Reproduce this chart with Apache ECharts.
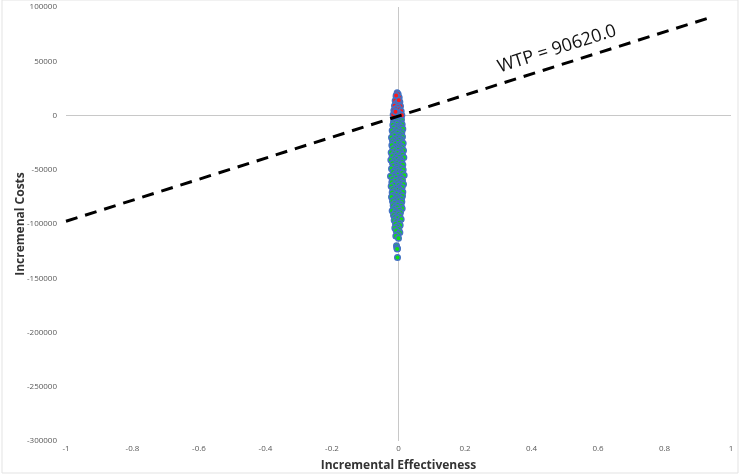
<!DOCTYPE html>
<html>
<head>
<meta charset="utf-8">
<title>Cost-effectiveness plane</title>
<script src="https://cdn.jsdelivr.net/npm/echarts@6/dist/echarts.min.js"></script>
<style>
  html, body { margin: 0; padding: 0; background: #fff; }
  #chart { width: 744px; height: 474px; }
</style>
</head>
<body>
<div id="chart"></div>
<script>
// simulations above zero (red fill)
const posEffect = [-0.004, -0.001, -0.007, 0.002, -0.003, -0.010, 0.004, -0.006, 0.000, -0.012,
  0.006, -0.002, -0.008, 0.003, -0.014, 0.008, -0.005, -0.001, -0.011, 0.005,
  -0.016, 0.010, -0.007, 0.001, -0.009]
const posCost = [21000, 19500, 17000, 16500, 15000, 13500, 12500, 11000, 10200, 9000,
  8500, 7500, 6200, 5600, 4500, 4000, 3000, 2200, 1500, 900,
  600, 300, 18500, 14000, 3500]

// simulations below zero (green fill)
const negEffect = [
  0.003, -0.009, 0.007, -0.004, -0.013, 0.001, 0.009, -0.007, -0.002, -0.015,
  0.005, -0.011, -0.003, 0.011, -0.017, 0.002, -0.008, 0.008, -0.014, -0.001,
  0.013, -0.006, -0.019, 0.004, -0.010, 0.010, -0.002, -0.016, 0.006, -0.009,
  -0.013, 0.001, 0.012, -0.021, -0.005, 0.007, -0.012, 0.003, -0.018, 0.010,
  -0.004, -0.015, 0.014, -0.009, 0.002, -0.020, 0.008, -0.006, 0.011, -0.012,
  0.004, -0.017, -0.001, 0.015, -0.011, 0.006, -0.022, -0.003, 0.009, -0.014,
  0.012, -0.007, -0.019, 0.001, 0.016, -0.010, -0.004, 0.007, -0.023, 0.003,
  -0.013, 0.010, -0.002, -0.018, 0.005, 0.013, -0.008, -0.015, 0.002, -0.005,
  0.008, -0.021, -0.006, 0.014, -0.011, 0.000, -0.016, 0.006, 0.011, -0.009,
  -0.003, 0.017, -0.013, -0.024, 0.004, -0.007, 0.009, -0.018, 0.001, 0.012,
  -0.010, 0.003, -0.020, 0.010, -0.005, 0.015, -0.014, 0.000, -0.022, 0.007,
  0.011, -0.008, 0.002, -0.017, -0.003, 0.008, -0.012, 0.013, -0.019, -0.001,
  -0.006, 0.006, -0.015, 0.012, -0.010, -0.021, 0.003, -0.004, 0.009, -0.013,
  0.001, -0.018, 0.010, -0.007, -0.012, 0.005, -0.002, -0.016, 0.008, -0.009,
  -0.004, 0.011, -0.014, 0.002, -0.019, -0.008, 0.006, -0.011, 0.000, -0.015,
  0.004, -0.010, -0.003, 0.008, -0.013, -0.006, 0.002, -0.009, 0.005, -0.004,
  -0.011, 0.001, -0.007, 0.004, -0.002, -0.008, 0.000, -0.006, -0.003, -0.005,
  -0.004, -0.003]
const negCost = [
  -300, -900, -1500, -2100, -2800, -3300, -4000, -4700, -5300, -5900,
  -6400, -6900, -7700, -8200, -8800, -9500, -10100, -10600, -11300, -11900,
  -12500, -13000, -13800, -14300, -14900, -15600, -16000, -16700, -17400, -17900,
  -18400, -19100, -19600, -20200, -20900, -21500, -22000, -22600, -23300, -23900,
  -24300, -25000, -25600, -26100, -26800, -27400, -28000, -28700, -29200, -29800,
  -30400, -30900, -31600, -32200, -32900, -33400, -34000, -34600, -35300, -35800,
  -36300, -37000, -37500, -38200, -38800, -39300, -40000, -40600, -41100, -41800,
  -42300, -42900, -43600, -44100, -44800, -45400, -45900, -46600, -47200, -47700,
  -48300, -49000, -49500, -50100, -50800, -51300, -52000, -52500, -53100, -53800,
  -54300, -55000, -55500, -56100, -56700, -57400, -57900, -58500, -59200, -59700,
  -60300, -60800, -61500, -62100, -62600, -63300, -63800, -64400, -65100, -65600,
  -66200, -66900, -67400, -68000, -68700, -69200, -69900, -70400, -71000, -71700,
  -72200, -72900, -73400, -74100, -74700, -75200, -75900, -76500, -77000, -77800,
  -78300, -79000, -79600, -80300, -80900, -81600, -82200, -82900, -83500, -84200,
  -84900, -85600, -86300, -87100, -87800, -88600, -89400, -90200, -91100, -92000,
  -92800, -93700, -94700, -95600, -96600, -97700, -98800, -99900, -101100, -102400,
  -103600, -104900, -106300, -107800, -109400, -111000, -113200, -120000, -122600, -121800,
  -123000, -130800]

// WTP threshold line end points
const wtpEffect = [-1, 0.94]
const wtpCost = [-97500, 90600]
const wtpLabel = 'WTP = 90620.0'

const chart = echarts.init(document.getElementById('chart'))

const zip = (xs, ys) => xs.map((x, i) => [x, ys[i]])

const option = {
  animation: false,
  textStyle: { fontFamily: 'Open Sans' },
  grid: { left: 66, right: 13, top: 7, bottom: 33, outerBoundsMode: 'none' },
  xAxis: {
    type: 'value',
    min: -1,
    max: 1,
    interval: 0.2,
    name: 'Incremental Effectiveness',
    nameLocation: 'middle',
    nameGap: 19,
    nameMoveOverlap: false,
    nameTextStyle: { color: '#333', fontSize: 12, fontWeight: 'bold' },
    axisLine: { show: false },
    axisTick: { show: false },
    splitLine: { show: false },
    axisLabel: { color: '#595959', fontSize: 8, margin: 4 }
  },
  yAxis: {
    type: 'value',
    min: -300000,
    max: 100000,
    interval: 50000,
    name: 'Incremenal Costs',
    nameLocation: 'middle',
    nameGap: 39,
    nameMoveOverlap: false,
    nameTextStyle: { color: '#333', fontSize: 12, fontWeight: 'bold' },
    axisLine: { show: false },
    axisTick: { show: false },
    splitLine: { show: false },
    axisLabel: { color: '#595959', fontSize: 8, margin: 9, formatter: v => String(v) }
  },
  series: [
    {
      type: 'scatter',
      symbolSize: 5.5,
      data: zip(negEffect, negCost),
      itemStyle: { color: '#11e011', borderColor: '#4472c4', borderWidth: 1.5, opacity: 1 },
      markLine: {
        silent: true,
        symbol: 'none',
        label: { show: false },
        lineStyle: { color: '#c8c8c8', type: 'solid', width: 1 },
        data: [{ xAxis: 0 }, { yAxis: 0 }],
        z: 1
      },
      z: 3
    },
    {
      type: 'scatter',
      symbolSize: 5.5,
      data: zip(posEffect, posCost),
      itemStyle: { color: '#ff1a1a', borderColor: '#4472c4', borderWidth: 1.5, opacity: 1 },
      z: 3
    },
    {
      type: 'line',
      data: zip(wtpEffect, wtpCost),
      symbol: 'none',
      lineStyle: { color: '#000', width: 3, type: [12, 8] },
      z: 5
    }
  ],
  graphic: [
    {
      type: 'rect',
      shape: { x: 2, y: 0, width: 736, height: 473 },
      style: { fill: 'none', stroke: '#e3e3e3', lineWidth: 1 },
      silent: true
    },
    {
      type: 'text',
      x: 557,
      y: 49,
      rotation: 17.5 * Math.PI / 180,
      style: {
        text: wtpLabel,
        fill: '#111',
        font: '18px "Open Sans"',
        align: 'center',
        verticalAlign: 'middle'
      }
    }
  ]
}

chart.setOption(option)
</script>
</body>
</html>
